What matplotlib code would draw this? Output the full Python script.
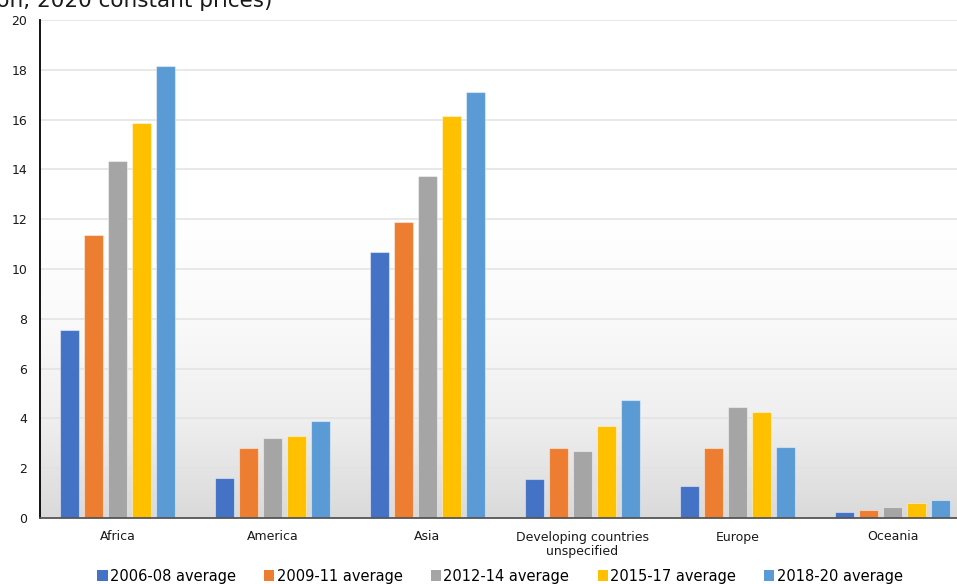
import numpy as np
import matplotlib
matplotlib.use('Agg')
import matplotlib.pyplot as plt
from matplotlib.patches import Patch

regions = ['Africa', 'America', 'Asia', 'Developing countries\nunspecified', 'Europe', 'Oceania']
periods = ['2006-08 average', '2009-11 average', '2012-14 average', '2015-17 average', '2018-20 average']
avg_0608 = [7.55, 1.6, 10.7, 1.56, 1.3, 0.24]
avg_0911 = [11.35, 2.8, 11.9, 2.8, 2.8, 0.32]
avg_1214 = [14.35, 3.2, 13.75, 2.7, 4.47, 0.43]
avg_1517 = [15.85, 3.3, 16.15, 3.7, 4.26, 0.6]
avg_1820 = [18.17, 3.9, 17.1, 4.75, 2.85, 0.72]
colors = ['#4472C4', '#ED7D31', '#A5A5A5', '#FFC000', '#5B9BD5']

series = [avg_0608, avg_0911, avg_1214, avg_1517, avg_1820]

fig = plt.figure(figsize=(9.57, 5.84), dpi=100)
ax = fig.add_axes([40 / 957, 66 / 584, 930 / 957, 498 / 584])

# vertical grey gradient behind the plot area
grad = np.linspace(0, 1, 256).reshape(-1, 1)
cmap = matplotlib.colors.LinearSegmentedColormap.from_list(
    'bg', [(0, '#dadada'), (0.2, '#efefef'), (0.4, '#fafafa'), (0.6, '#ffffff'), (1, '#ffffff')])
ax.imshow(grad, extent=[0, 1, 0, 1], transform=ax.transAxes, aspect='auto',
          cmap=cmap, origin='lower', zorder=0)

x = np.arange(len(regions))
step = 0.155
width = 0.125
for i, (vals, col) in enumerate(zip(series, colors)):
    ax.bar(x + (i - 2) * step, vals, width, color=col, edgecolor=(1, 1, 1, 0.45),
           linewidth=0.8, zorder=3, label=periods[i])

ax.set_xlim(-0.5, len(regions) - 0.5)
ax.set_ylim(0, 20)
ax.set_yticks(range(0, 21, 2))
ax.yaxis.grid(True, color='#e2e2e2', linewidth=1.1, zorder=1)
ax.set_axisbelow(True)
ax.set_xticks(x)
ax.set_xticklabels(regions, fontsize=9, color='#1a1a1a')
ax.tick_params(axis='y', labelsize=9, length=0, pad=9, colors='#1a1a1a')
ax.tick_params(axis='x', length=0, pad=9)
for s in ['top', 'right']:
    ax.spines[s].set_visible(False)
ax.spines['left'].set_color('#000000')
ax.spines['left'].set_linewidth(1.3)
ax.spines['bottom'].set_color('#555555')
ax.spines['bottom'].set_linewidth(1.3)
ax.spines['left'].set_zorder(4)
ax.spines['bottom'].set_zorder(4)

fig.text(272 / 957, 1 - 7 / 584, '(USD billion, 2020 constant prices)', ha='right', va='baseline',
         fontsize=15.5, color='#1a1a1a')

handles = [Patch(facecolor=c, edgecolor='none') for c in colors]
fig.legend(handles, periods, loc='center', bbox_to_anchor=(500 / 957, 1 - 576 / 584), ncol=5,
           frameon=False, fontsize=10.5, handlelength=0.7, handleheight=0.7,
           handletextpad=0.15, columnspacing=1.95, borderaxespad=0)

fig.savefig('out.png', dpi=100)
